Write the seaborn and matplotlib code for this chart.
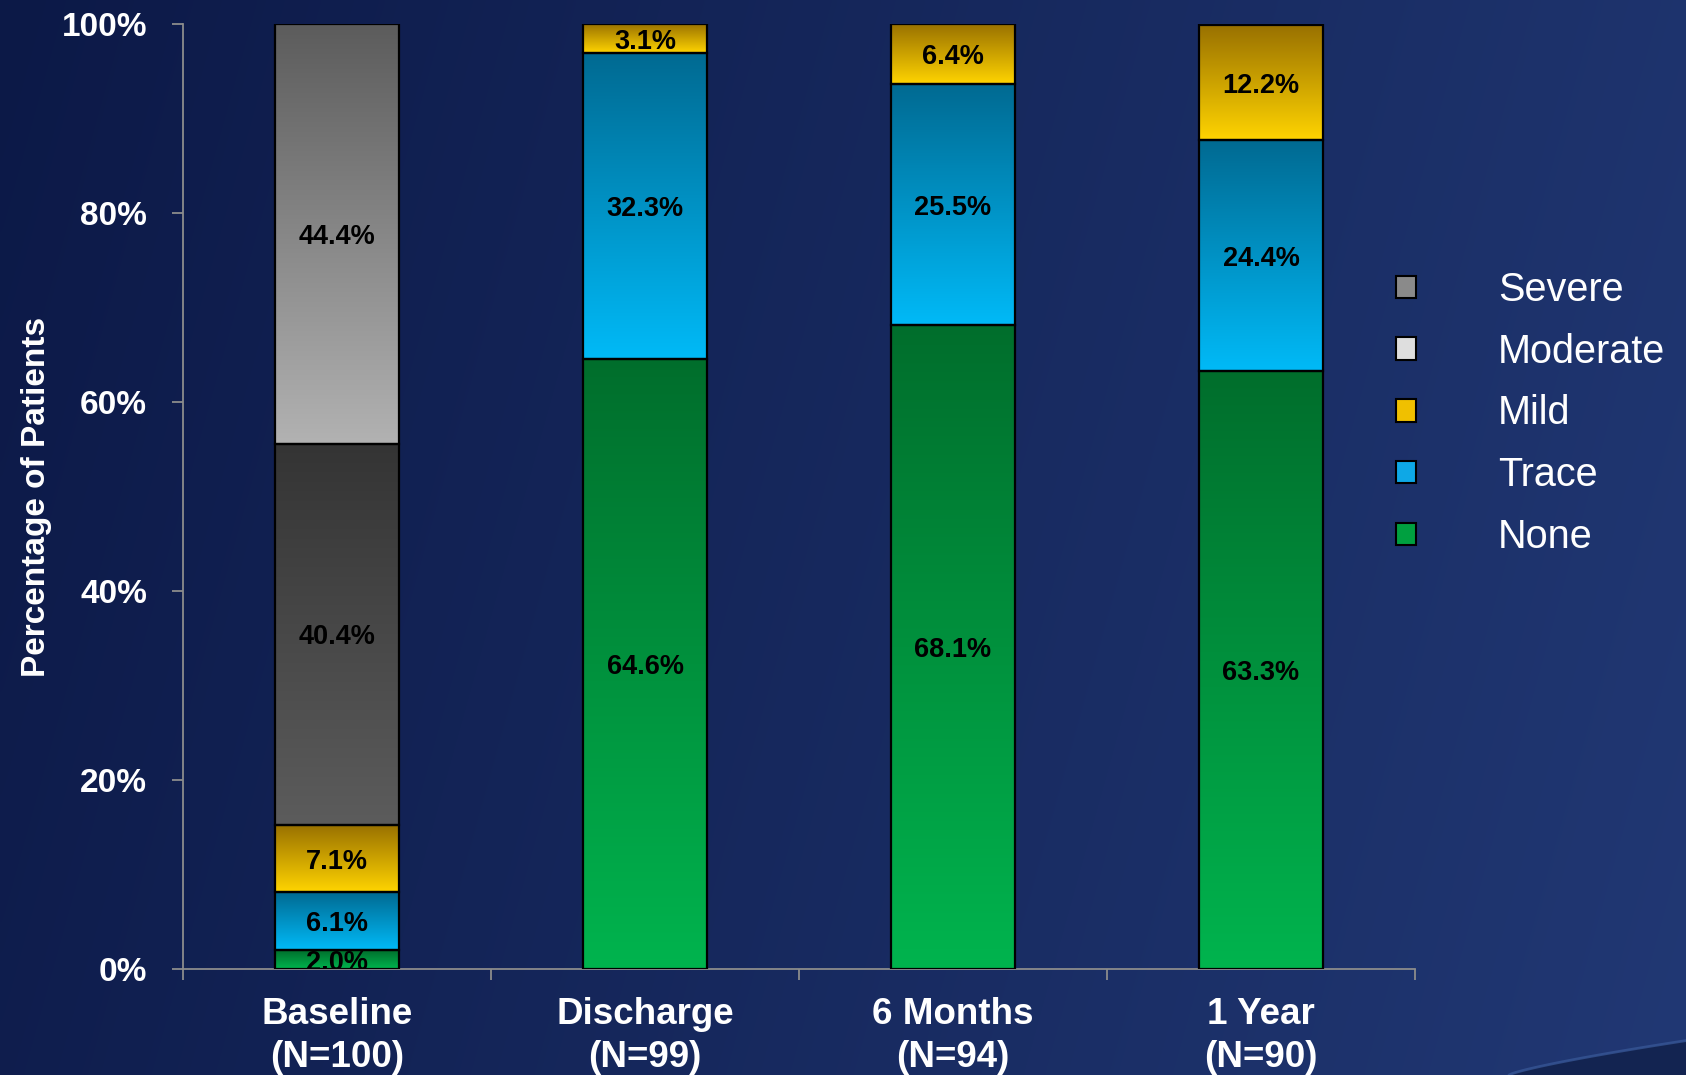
import numpy as np
import matplotlib
matplotlib.use("Agg")
import matplotlib.pyplot as plt
import seaborn as sns
from matplotlib.colors import LinearSegmentedColormap
from matplotlib.patches import Patch

# ---- data -------------------------------------------------------------
categories = ["Baseline\n(N=100)", "Discharge\n(N=99)", "6 Months\n(N=94)", "1 Year\n(N=90)"]
none_pct = [2.0, 64.6, 68.1, 63.3]
trace_pct = [6.1, 32.3, 25.5, 24.4]
mild_pct = [7.1, 3.1, 6.4, 12.2]
moderate_pct = [40.4, 0.0, 0.0, 0.0]
severe_pct = [44.4, 0.0, 0.0, 0.0]
ytick_values = [0, 20, 40, 60, 80, 100]
ytick_labels = ["0%", "20%", "40%", "60%", "80%", "100%"]

# stacking order, bottom to top
levels = ["None", "Trace", "Mild", "Moderate", "Severe"]
level_values = {
    "None": none_pct,
    "Trace": trace_pct,
    "Mild": mild_pct,
    "Moderate": moderate_pct,
    "Severe": severe_pct,
}
# vertical gradient of each segment: (top colour, bottom colour)
segment_gradient = {
    "None": ("#006e2c", "#00b44e"),
    "Trace": ("#006a92", "#00baf7"),
    "Mild": ("#987000", "#ffd400"),
    "Moderate": ("#343434", "#5c5c5c"),
    "Severe": ("#5c5c5c", "#b2b2b2"),
}
legend_colors = {
    "Severe": "#8a8a8a",
    "Moderate": "#dedede",
    "Mild": "#f0c000",
    "Trace": "#0ea8e6",
    "None": "#00a040",
}

sns.set_theme(style="white")
plt.rcParams["font.family"] = ["Liberation Sans", "DejaVu Sans"]

W, H = 1686, 1075
fig = plt.figure(figsize=(W / 100, H / 100), dpi=100)

# ---- navy slide background ---------------------------------------------
bg = fig.add_axes([0, 0, 1, 1], zorder=-10)
gw, gh = 400, 260
gx = np.linspace(0, 1, gw)[None, :]
gy = np.linspace(0, 1, gh)[:, None]
c_left = np.array([0x0c, 0x19, 0x47]) / 255
c_right = np.array([0x21, 0x38, 0x74]) / 255
t = np.clip(0.85 * gx + 0.15 * gy, 0, 1)
img = c_left + (c_right - c_left) * t[..., None]
bg.imshow(img, extent=[0, 1, 0, 1], aspect="auto", origin="upper", interpolation="bicubic")
sx = np.linspace(0.895, 1.0, 50)
sy = 0.032 * ((sx - 0.895) / 0.105) ** 0.8
bg.fill_between(sx, 0, sy, color="#132451", lw=0)
bg.plot(sx, sy, color="#3a5a9a", lw=2.0, alpha=0.7)
bg.set_xlim(0, 1)
bg.set_ylim(0, 1)
bg.axis("off")

# ---- chart axes --------------------------------------------------------
ax = fig.add_axes([183 / W, 1 - 969 / H, (1415 - 183) / W, (969 - 24) / H])
ax.patch.set_alpha(0)

bottom = np.zeros(len(categories))
segments = []
for lvl in levels:
    vals = np.array(level_values[lvl], dtype=float)
    n_before = len(ax.patches)
    sns.barplot(x=categories, y=vals, order=categories, bottom=bottom.copy(),
                width=0.4, color=segment_gradient[lvl][1], edgecolor="black",
                linewidth=1.6, ax=ax, zorder=3)
    for p, v in zip(ax.patches[n_before:], vals):
        segments.append((lvl, p, v))
    bottom += vals

for lvl, p, v in segments:
    p.set_facecolor("none")
    if v <= 0:
        p.set_visible(False)
        continue
    x0, y0, w, h = p.get_x(), p.get_y(), p.get_width(), p.get_height()
    top_c, bot_c = segment_gradient[lvl]
    cmap = LinearSegmentedColormap.from_list(lvl, [bot_c, top_c])
    ax.imshow(np.linspace(0, 1, 256)[:, None], cmap=cmap, origin="lower",
              extent=[x0, x0 + w, y0, y0 + h], aspect="auto", zorder=2,
              interpolation="bilinear")
    ax.text(x0 + w / 2, y0 + h / 2, f"{v:.1f}%", ha="center", va="center_baseline",
            fontsize=19.5, fontweight="bold", color="black", zorder=5, clip_on=True)

ax.set_xlim(-0.5, len(categories) - 0.5)
ax.set_ylim(0, 100)

# axes styling
for side in ["top", "right"]:
    ax.spines[side].set_visible(False)
for side in ["left", "bottom"]:
    ax.spines[side].set_color("#8c8c8c")
    ax.spines[side].set_linewidth(1.3)

ax.set_yticks(ytick_values)
ax.set_yticklabels(ytick_labels, fontsize=24, fontweight="bold", color="white")
ax.tick_params(axis="y", length=8, width=1.3, color="#8c8c8c", pad=18, left=True)

ax.set_xticks(range(len(categories)))
ax.set_xticklabels(categories, fontsize=26.5, fontweight="bold", color="white",
                   linespacing=1.3)
ax.tick_params(axis="x", length=0, pad=20)
ax.set_xticks(np.arange(-0.5, len(categories), 1.0), minor=True)
ax.tick_params(axis="x", which="minor", length=8, width=1.3, color="#8c8c8c", bottom=True)
ax.set_xlabel("")

ax.set_ylabel("Percentage of Patients", fontsize=24, fontweight="bold", color="white")
ax.yaxis.set_label_coords(-0.106, 0.50)

# legend, top series first
handles = [Patch(facecolor=legend_colors[l], edgecolor="black", linewidth=1.5)
           for l in levels[::-1]]
fig.legend(handles, levels[::-1], loc="upper left", bbox_to_anchor=(1396 / W, 1 - 271 / H),
           frameon=False, fontsize=28.5, labelcolor="white", handlelength=0.5,
           handleheight=0.5, handletextpad=2.07, labelspacing=0.60,
           borderaxespad=0, borderpad=0)

fig.savefig("out.png", dpi=100)
